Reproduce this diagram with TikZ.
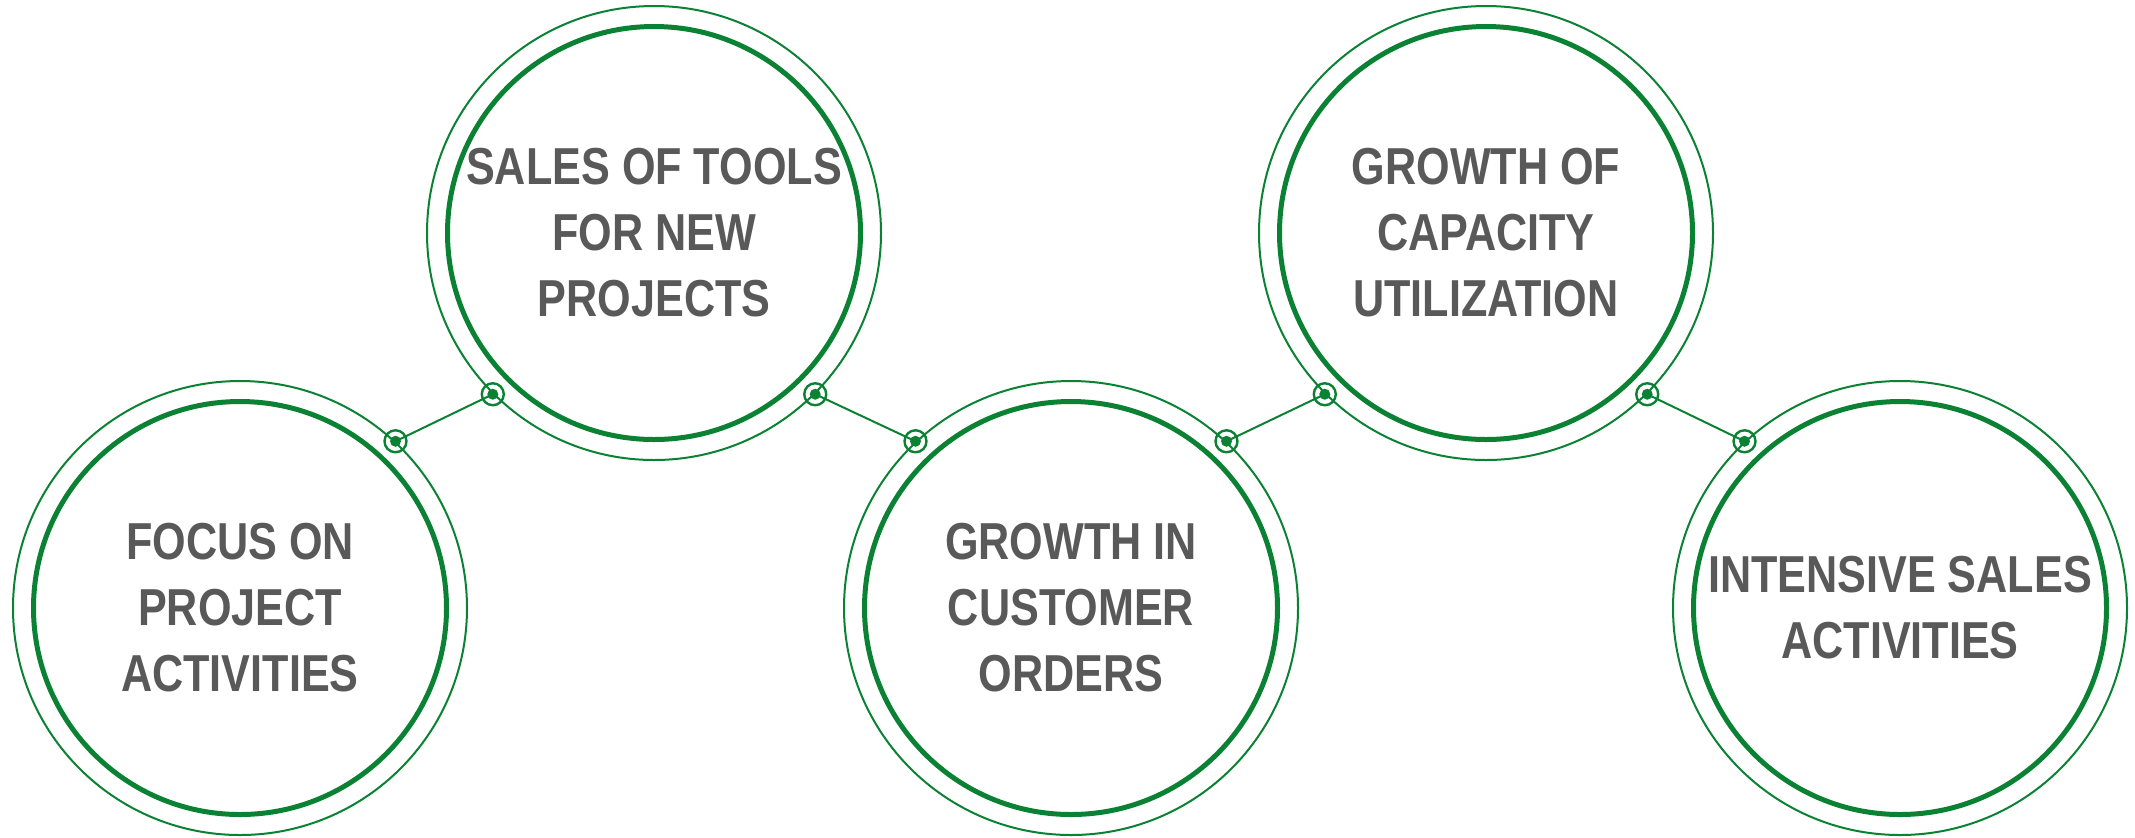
\documentclass[tikz,border=0pt]{standalone}
\usepackage{fontspec}
\newfontfamily\stepfont{Liberation Sans}[FakeStretch=0.83]
\definecolor{leafgreen}{RGB}{11,130,51}
\definecolor{textgray}{RGB}{89,89,89}

\tikzset{every picture/.style={line width=1pt}}

\begin{document}
\begin{tikzpicture}[x=0.5pt,y=0.5pt,yscale=-1,
	stepcircle/.style={circle,draw=leafgreen,line width=1pt,minimum size=227pt,inner sep=0pt,
		align=center,text=textgray,font=\stepfont\bfseries\fontsize{26}{33}\selectfont},
	innerring/.style={draw=leafgreen,line width=2.5pt},
	link/.style={draw=leafgreen,line width=1pt},
	joint/.style={draw=leafgreen,line width=1.2pt},
	jointdot/.style={fill=leafgreen}]
	\useasboundingbox (0,0) rectangle (2135,837);
	
	%Circles
	\node [stepcircle] (c1) at (240,608) {FOCUS ON\\PROJECT\\ACTIVITIES};
	\node [stepcircle] (c2) at (654,233) {SALES OF TOOLS\\FOR NEW\\PROJECTS};
	\node [stepcircle] (c3) at (1071,608) {GROWTH IN\\CUSTOMER\\ORDERS};
	\node [stepcircle] (c4) at (1486,233) {GROWTH OF\\CAPACITY\\UTILIZATION};
	\node [stepcircle] (c5) at (1900,608) {INTENSIVE SALES\\ACTIVITIES};
	
	%Inner rings
	\foreach \c in {c1,c2,c3,c4,c5}
		\draw [innerring] (\c.center) circle (206.5);
	
	%Joints on the outer circles
	\coordinate (d1) at (c1.47);
	\coordinate (d2) at (c2.225);
	\coordinate (d3) at (c2.315);
	\coordinate (d4) at (c3.133);
	\coordinate (d5) at (c3.47);
	\coordinate (d6) at (c4.225);
	\coordinate (d7) at (c4.315);
	\coordinate (d8) at (c5.133);
	
	%Straight Lines
	\draw [link] (d1) -- (d2);
	\draw [link] (d3) -- (d4);
	\draw [link] (d5) -- (d6);
	\draw [link] (d7) -- (d8);
	
	\foreach \d in {d1,d2,d3,d4,d5,d6,d7,d8} {
		\draw [joint] (\d) circle (11);
		\fill [jointdot] (\d) circle (5.5);
	}
\end{tikzpicture}
\end{document}
